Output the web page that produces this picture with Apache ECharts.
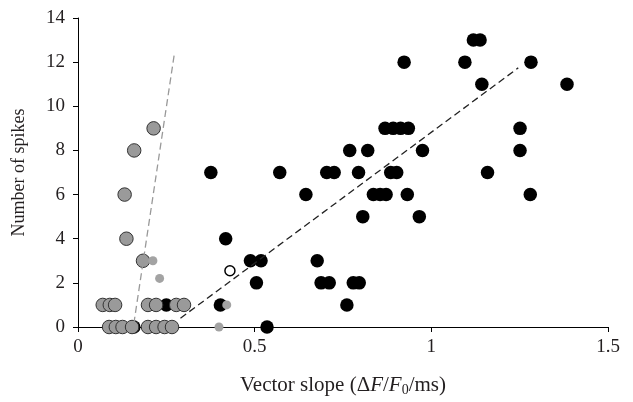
<!DOCTYPE html>
<html>
<head>
<meta charset="utf-8">
<script src="https://cdn.jsdelivr.net/npm/echarts@6/dist/echarts.min.js"></script>
<style>
  html, body { margin: 0; padding: 0; background: #fff; }
  #chart { width: 633px; height: 402px; }
</style>
</head>
<body>
<div id="chart"></div>
<script>
// data: [vector slope, number of spikes]
var blackPts = [
  [0.158, 0], [0.535, 0],
  [0.250, 1], [0.403, 1], [0.761, 1],
  [0.505, 2], [0.688, 2], [0.711, 2], [0.779, 2], [0.796, 2],
  [0.488, 3], [0.518, 3], [0.677, 3],
  [0.418, 4],
  [0.806, 5], [0.966, 5],
  [0.645, 6], [0.836, 6], [0.855, 6], [0.872, 6], [0.932, 6], [1.280, 6],
  [0.376, 7], [0.571, 7], [0.704, 7], [0.725, 7], [0.794, 7], [0.885, 7], [0.902, 7], [1.159, 7],
  [0.769, 8], [0.820, 8], [0.975, 8], [1.251, 8],
  [0.869, 9], [0.892, 9], [0.913, 9], [0.935, 9], [1.251, 9],
  [1.143, 11], [1.384, 11],
  [0.923, 12], [1.095, 12], [1.282, 12],
  [1.119, 13], [1.138, 13]
];
var grayPts = [
  [0.088, 0], [0.107, 0], [0.126, 0], [0.153, 0], [0.198, 0], [0.221, 0], [0.245, 0], [0.266, 0],
  [0.070, 1], [0.090, 1], [0.105, 1], [0.198, 1], [0.221, 1], [0.278, 1], [0.300, 1],
  [0.184, 3], [0.137, 4], [0.132, 6], [0.159, 8], [0.214, 9]
];
var smallGrayPts = [[0.399, 0], [0.421, 1], [0.231, 2.2], [0.212, 3]];
var openPts = [[0.430, 2.55]];
var blackFit = [[0.29, 0.4], [1.246, 11.74]];
var grayFit = [[0.158, 0.15], [0.272, 12.3]];
var xTicks = [0, 0.5, 1, 1.5];
var yTicks = [0, 2, 4, 6, 8, 10, 12, 14];

var serif = "'Liberation Serif', 'DejaVu Serif', serif";
var ink = '#231f20';
var chart = echarts.init(document.getElementById('chart'));

chart.setOption({
  backgroundColor: '#fff',
  animation: false,
  grid: { left: 78, right: 25, top: 18, bottom: 71 },
  xAxis: {
    type: 'value',
    min: xTicks[0], max: xTicks[xTicks.length - 1], interval: 0.5,
    name: '{a|Vector slope (Δ}{i|F}{a|/}{i|F}{s|0}{a|/ms)}',
    nameLocation: 'middle',
    nameGap: 46,
    nameTextStyle: {
      rich: {
        a: { fontFamily: serif, fontSize: 21, color: ink },
        i: { fontFamily: serif, fontSize: 21, fontStyle: 'italic', color: ink },
        s: { fontFamily: serif, fontSize: 14, color: ink, verticalAlign: 'bottom', padding: [10, 0, 0, 0] }
      }
    },
    axisLine: { lineStyle: { color: '#000', width: 1 } },
    axisTick: { length: 5, lineStyle: { color: '#000' } },
    axisLabel: { fontFamily: serif, fontSize: 19, color: ink, margin: 11 },
    splitLine: { show: false }
  },
  yAxis: {
    type: 'value',
    min: yTicks[0], max: yTicks[yTicks.length - 1], interval: 2,
    name: 'Number of spikes',
    nameLocation: 'middle',
    nameGap: 50,
    nameTextStyle: { fontFamily: serif, fontSize: 18, color: ink },
    axisLine: { show: true, lineStyle: { color: '#000', width: 1 } },
    axisTick: { show: true, length: 5, lineStyle: { color: '#000' } },
    axisLabel: { fontFamily: serif, fontSize: 19, color: ink, margin: 13 },
    splitLine: { show: false }
  },
  series: [
    {
      type: 'line', data: grayFit, symbol: 'none', silent: true,
      lineStyle: { color: '#999', width: 1.3, type: [7, 4] }
    },
    {
      type: 'line', data: blackFit, symbol: 'none', silent: true,
      lineStyle: { color: '#222', width: 1.3, type: [7, 4] }
    },
    {
      type: 'scatter', data: blackPts, symbolSize: 13.5,
      itemStyle: { color: '#000', opacity: 1 }
    },
    {
      type: 'scatter', data: grayPts, symbolSize: 13.5,
      itemStyle: { color: '#9a9a9a', borderColor: '#333', borderWidth: 1, opacity: 1 }
    },
    {
      type: 'scatter', data: smallGrayPts, symbolSize: 9,
      itemStyle: { color: '#a3a3a3', opacity: 1 }
    },
    {
      type: 'scatter', data: openPts, symbolSize: 10,
      itemStyle: { color: '#fff', borderColor: '#000', borderWidth: 1.5, opacity: 1 }
    }
  ]
});
</script>
</body>
</html>
